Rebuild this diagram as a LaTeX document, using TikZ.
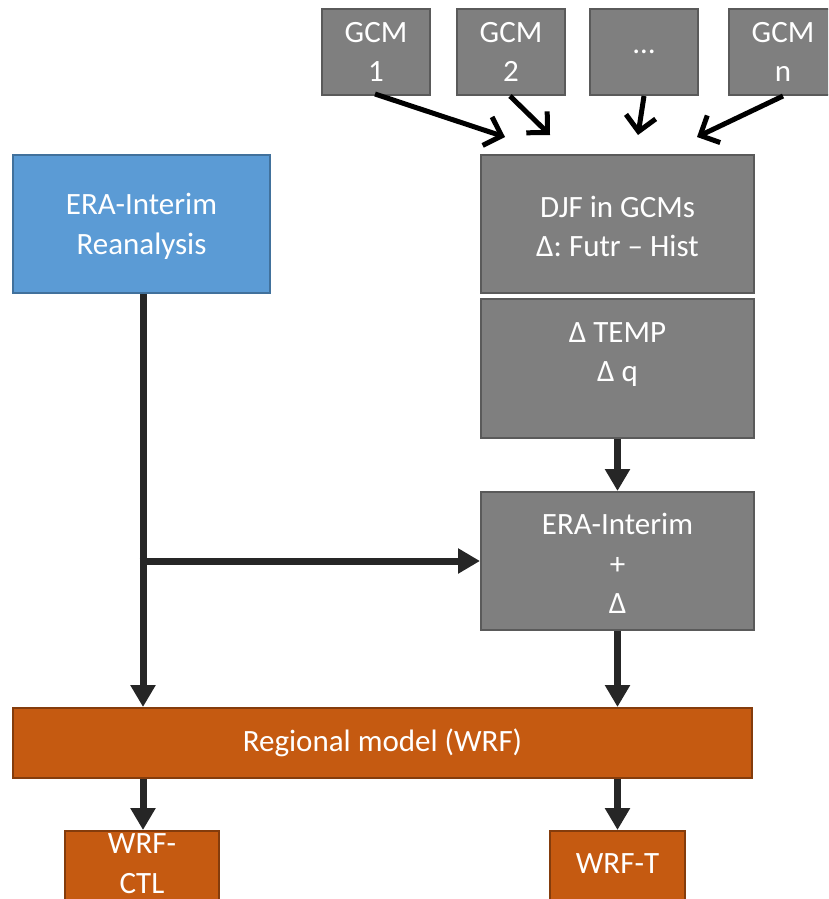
\documentclass[tikz,border=0pt]{standalone}
\usepackage{fontspec}
\setmainfont{Carlito}
\usetikzlibrary{arrows.meta}
\definecolor{gfill}{HTML}{7F7F7F}
\definecolor{gline}{HTML}{5A5A5A}
\definecolor{bfill}{HTML}{5B9BD5}
\definecolor{bline}{HTML}{41719C}
\definecolor{ofill}{HTML}{C55A11}
\definecolor{oline}{HTML}{843C0C}
\definecolor{arrc}{HTML}{262626}
\newcommand\dnstrut{\rule{0pt}{26pt}}
\tikzset{
  box/.style={rectangle, line width=2pt, text=white, align=center, inner sep=0pt,
    font=\fontsize{31}{39.5}\selectfont},
  gbox/.style={box, fill=gfill, draw=gline},
  bbox/.style={box, fill=bfill, draw=bline},
  obox/.style={box, fill=ofill, draw=oline},
  thick arrow/.style={draw=arrc, line width=7pt, -{Triangle[width=24pt,length=22pt]}},
  gcm arrow/.style={draw=black, line width=5pt, -{Straight Barb[width=30pt,length=15pt,line width=5pt]}},
}
\begin{document}
\begin{tikzpicture}[x=1pt,y=-1pt]
\useasboundingbox (0,0) rectangle (828,899);
\clip (0,0) rectangle (828,899);
% GCM boxes
\node[gbox, minimum width=108pt, minimum height=86pt] (g1) at (376,52) {GCM\\1};
\node[gbox, minimum width=108pt, minimum height=86pt] (g2) at (511,52) {GCM\\2};
\node[gbox, minimum width=108pt, minimum height=86pt] (g3) at (644,52) {…};
\node[gbox, minimum width=108pt, minimum height=86pt] (g4) at (783,52) {GCM\\n};
% main boxes
\node[bbox, minimum width=257pt, minimum height=138pt] (era) at (141.5,224) {\dnstrut ERA-Interim\\Reanalysis};
\node[gbox, minimum width=273pt, minimum height=138pt] (djf) at (617.5,224) {\dnstrut DJF in GCMs\\Δ: Futr – Hist};
\node[gbox, minimum width=273pt, minimum height=139pt] (dtq) at (617.5,368.5) {\dnstrut Δ TEMP\\Δ q\\\mbox{}};
\node[gbox, minimum width=273pt, minimum height=138pt] (plus) at (617.5,561) {\dnstrut ERA-Interim\\+\\Δ};
\node[obox, minimum width=739pt, minimum height=70pt] (reg) at (382.5,743) {Regional model (WRF)};
\node[obox, minimum width=154pt, minimum height=120pt, anchor=north] (ctl) at (142,830) {};
\node[box, anchor=north, yshift=-3pt] at (ctl.north) {WRF-\\CTL};
\node[obox, minimum width=135pt, minimum height=100pt, anchor=north] (wt) at (617.5,830) {};
\node[box] at (617.5,864) {WRF-T};
% GCM arrow ends
\coordinate (e1) at (505,137);
\coordinate (e2) at (550,135);
\coordinate (e3) at (638,135);
\coordinate (e4) at (697,137);
\draw[gcm arrow] (375,94) -- (e1);
\draw[gcm arrow] (g2.south) ++(-1,0) -- (e2);
\draw[gcm arrow] (g3.south) -- (e3);
\draw[gcm arrow] (g4.south) -- (e4);
% thick arrows
\draw[thick arrow] (dtq.south) -- (plus.north);
\draw[thick arrow] (plus.south) -- (plus.south |- reg.north);
\draw[thick arrow] (era.south -| 143,0) -- (143,0 |- reg.north);
\draw[thick arrow] (143,0 |- plus.west) ++(-3.5,0) -- (plus.west);
\draw[thick arrow] (143,0 |- reg.south) -- (ctl.north -| 143,0);
\draw[thick arrow] (wt.north |- reg.south) -- (wt.north);
\end{tikzpicture}
\end{document}
